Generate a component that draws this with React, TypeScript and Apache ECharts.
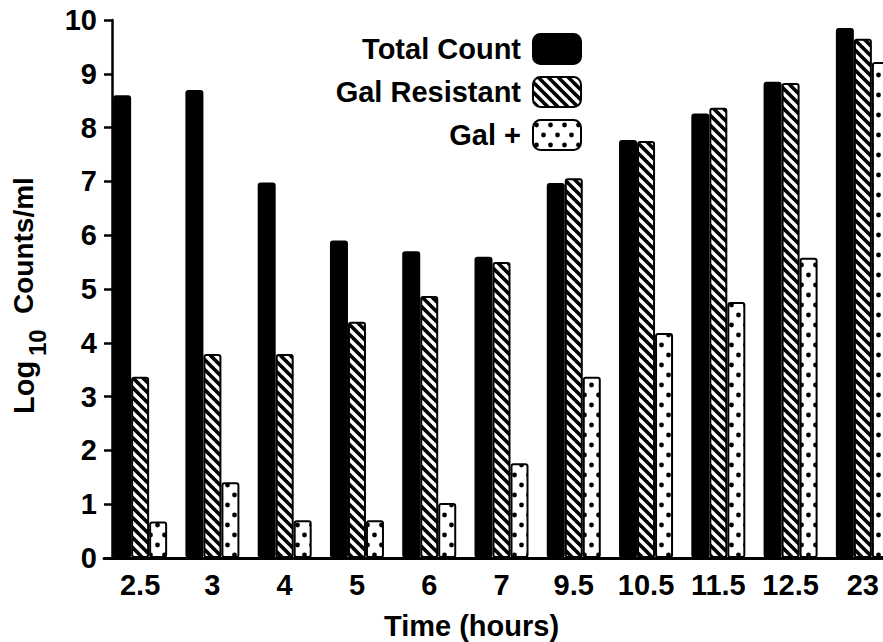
import React, { useEffect, useRef } from "react";
import * as echarts from "echarts";

const categories = ["2.5", "3", "4", "5", "6", "7", "9.5", "10.5", "11.5", "12.5", "23"];
const totalCount = [8.6, 8.7, 6.98, 5.9, 5.7, 5.6, 6.97, 7.77, 8.26, 8.85, 9.85];
const galResistant = [3.37, 3.79, 3.79, 4.39, 4.87, 5.5, 7.06, 7.75, 8.37, 8.83, 9.65];
const galPlus = [0.68, 1.41, 0.7, 0.7, 1.02, 1.76, 3.37, 4.18, 4.76, 5.58, 9.22];
const seriesNames = ["Total Count", "Gal Resistant", "Gal +"];
const yTitleParts = ["Log", "10", "Counts/ml"];
const xTitle = "Time (hours)";

const FONT = "Liberation Sans, Arial, Helvetica, sans-serif";

function makeHatch() {
  const P = 10;
  const c = document.createElement("canvas");
  c.width = P;
  c.height = P;
  const ctx = c.getContext("2d")!;
  ctx.fillStyle = "#000";
  ctx.fillRect(0, 0, P, P);
  ctx.strokeStyle = "#fff";
  ctx.lineWidth = 3.4;
  for (const k of [-P, 0, P]) {
    ctx.beginPath();
    ctx.moveTo(k - 2, -2);
    ctx.lineTo(k + P + 2, P + 2);
    ctx.stroke();
  }
  return { image: c, repeat: "repeat", imageWidth: P, imageHeight: P };
}

function makeDots() {
  const W = 14;
  const H = 20;
  const c = document.createElement("canvas");
  c.width = W;
  c.height = H;
  const ctx = c.getContext("2d")!;
  ctx.fillStyle = "#fff";
  ctx.fillRect(0, 0, W, H);
  ctx.fillStyle = "#000";
  for (const [x, y] of [[3.5, 5], [10.5, 15]]) {
    ctx.beginPath();
    ctx.arc(x, y, 2.4, 0, Math.PI * 2);
    ctx.fill();
  }
  return { image: c, repeat: "repeat", imageWidth: W, imageHeight: H };
}

export default function App() {
  const ref = useRef<HTMLDivElement>(null);
  useEffect(() => {
    if (!ref.current) return;
    const chart = echarts.init(ref.current, null, { renderer: "svg" });
    const hatch = makeHatch();
    const dots = makeDots();
    const fills: any[] = ["#000", hatch, dots];
    const datas = [totalCount, galResistant, galPlus];
    const textBase = { fontFamily: FONT, fontWeight: "bold", color: "#000" };
    const titleText = (text: string, x: number, y: number, size: number) => ({
      type: "text",
      x,
      y,
      rotation: Math.PI / 2,
      silent: true,
      style: {
        text,
        fill: "#000",
        font: `bold ${size}px ${FONT}`,
        align: "left",
        verticalAlign: "middle",
      },
    });
    chart.setOption({
      animation: false,
      backgroundColor: "#fff",
      grid: {
        left: 104,
        top: 20,
        width: 795,
        bottom: 84,
        containLabel: false,
        outerBoundsMode: "none",
      },
      legend: {
        orient: "vertical",
        right: 301,
        top: 33,
        padding: 0,
        align: "right",
        itemWidth: 48,
        itemHeight: 30,
        itemGap: 11,
        icon: "roundRect",
        data: seriesNames,
        textStyle: { ...textBase, fontSize: 29, padding: [0, 7, 0, 0] },
      },
      graphic: [
        titleText(yTitleParts[0], 23.5, 414, 29),
        titleText(yTitleParts[1], 37.5, 356, 24),
        titleText(yTitleParts[2], 23.5, 314, 28),
      ],
      xAxis: {
        type: "category",
        data: categories,
        name: xTitle,
        nameLocation: "middle",
        nameGap: 53,
        nameTextStyle: { ...textBase, fontSize: 29, lineHeight: 30, padding: [0, 60, 0, 0] },
        axisLine: { lineStyle: { color: "#000", width: 3 } },
        axisTick: { alignWithLabel: true, length: 10, lineStyle: { color: "#000", width: 2.5 } },
        axisLabel: { ...textBase, fontSize: 29, margin: 12, interval: 0 },
      },
      yAxis: {
        type: "value",
        min: 0,
        max: 10,
        interval: 1,
        offset: -8,
        axisLine: { show: true, lineStyle: { color: "#000", width: 2.5 } },
        axisTick: { show: true, length: 8, lineStyle: { color: "#000", width: 2.5 } },
        splitLine: { show: false },
        axisLabel: { ...textBase, fontSize: 29, margin: 15 },
      },
      series: seriesNames.map((name, i) => ({
        name,
        type: "bar",
        data: datas[i],
        barWidth: 18,
        barGap: "0%",
        itemStyle: {
          color: fills[i],
          borderColor: "#000",
          borderWidth: 2,
          borderRadius: 2,
        },
      })),
    });
    return () => chart.dispose();
  }, []);
  return (
    <div
      ref={ref}
      style={{ position: "fixed", left: 0, top: 0, width: 883, height: 642, background: "#fff" }}
    />
  );
}
